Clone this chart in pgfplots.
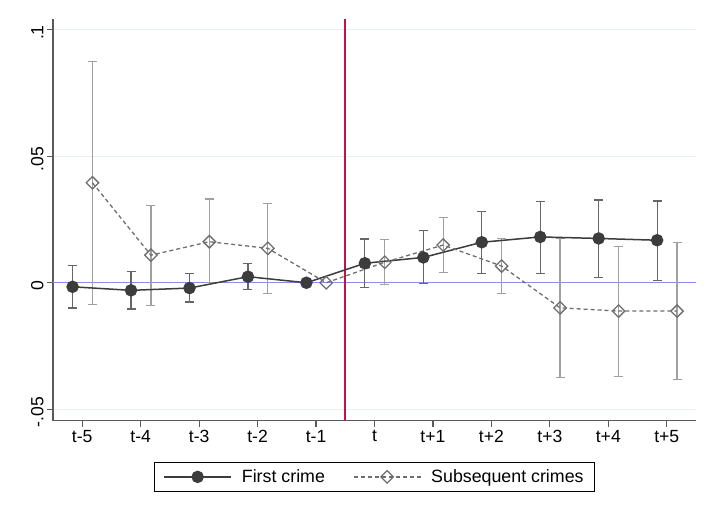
\documentclass[border=0pt]{standalone}
\usepackage{pgfplots}
\pgfplotsset{compat=1.18}
\usepackage{pgfplotstable}
\usepackage{fontspec}
\setmainfont{Liberation Sans}
\definecolor{firstc}{HTML}{3C3C3C}
\definecolor{firstci}{HTML}{666666}
\definecolor{subc}{HTML}{6E6E6E}
\definecolor{subci}{HTML}{A0A0A0}
\definecolor{zeroc}{HTML}{8C8CF0}
\definecolor{vlinec}{RGB}{190,20,70}
\definecolor{gridc}{HTML}{E8F0F2}
\definecolor{axisc}{HTML}{5A5A5A}

\pgfplotstableread{
x y lo hi
-0.165 -0.0016 -0.0100 0.0069
0.835 -0.0030 -0.0104 0.0045
1.835 -0.0021 -0.0076 0.0037
2.835 0.0024 -0.0028 0.0075
3.835 0.0000 0.0000 0.0000
4.835 0.0077 -0.0020 0.0173
5.835 0.0100 -0.0004 0.0206
6.835 0.0160 0.0038 0.0281
7.835 0.0181 0.0037 0.0322
8.835 0.0175 0.0021 0.0327
9.835 0.0168 0.0009 0.0323
}\first

\pgfplotstableread{
x y lo hi
0.175 0.0395 -0.0085 0.0874
1.175 0.0109 -0.0089 0.0304
2.175 0.0162 0.0000 0.0331
3.175 0.0136 -0.0042 0.0314
4.175 0.0000 0.0000 0.0000
5.175 0.0081 -0.0006 0.0171
6.175 0.0149 0.0040 0.0257
7.175 0.0066 -0.0042 0.0174
8.175 -0.0099 -0.0375 0.0174
9.175 -0.0112 -0.0369 0.0142
10.175 -0.0112 -0.0381 0.0158
}\sub

\begin{document}
\begin{tikzpicture}
\useasboundingbox (-53bp,-99.3bp) rectangle (662bp,420.7bp);
\begin{axis}[
  scale only axis, width=643bp, height=401.7bp,
  at={(0,0)}, anchor=south west,
  xmin=-0.5, xmax=10.5, ymin=-0.0545, ymax=0.1042,
  axis lines=left,
  axis line style={-, draw=axisc, line width=1.2bp},
  xtick={0,1,2,3,4,5,6,7,8,9,10},
  xticklabels={t-5,t-4,t-3,t-2,t-1,t,t+1,t+2,t+3,t+4,t+5},
  ytick={-0.05,0,0.05,0.1},
  yticklabels={-.05,0,.05,.1},
  tick align=outside, major tick length=6bp,
  tick style={draw=axisc, line width=1.2bp},
  ymajorgrids, grid style={draw=gridc, line width=1bp},
  every tick label/.append style={font=\fontsize{17.6bp}{20bp}\selectfont, text=black},
  yticklabel style={rotate=90, anchor=south, xshift=-3bp},
  legend style={at={(0.5,0)}, anchor=north, yshift=-41bp, xshift=0bp,
    legend columns=2, draw=black, line width=1bp,
    inner xsep=9bp, inner ysep=5.5bp,
    font=\fontsize{17.8bp}{20bp}\selectfont,
    /tikz/every odd column/.append style={column sep=8bp},
    /tikz/every even column/.append style={column sep=26bp}},
  legend image code/.code={\draw[mark repeat=2,mark phase=2,#1] plot coordinates {(0bp,0bp) (33.5bp,0bp) (67bp,0bp)};},
  clip=false,
]
\addplot[draw=zeroc, line width=1.4bp, forget plot] coordinates {(-0.5,0) (10.5,0)};
\addplot[draw=vlinec, line width=1.6bp, forget plot, mark=none] coordinates {(4.5,-0.0545) (4.5,0.1042)};

\addplot[draw=none, mark=none, forget plot, skip coords between index={4}{5},
  error bars/.cd, y dir=both, y explicit,
  error bar style={draw=firstci, line width=1.2bp, solid},
  error mark options={draw=firstci, line width=1.2bp, mark size=4.5bp, rotate=90}]
  table[x=x, y=y, y error plus expr=\thisrow{hi}-\thisrow{y}, y error minus expr=\thisrow{y}-\thisrow{lo}]{\first};
\addplot[draw=none, mark=none, forget plot, skip coords between index={4}{5},
  error bars/.cd, y dir=both, y explicit,
  error bar style={draw=subci, line width=1.2bp, solid},
  error mark options={draw=subci, line width=1.2bp, mark size=4.5bp, rotate=90}]
  table[x=x, y=y, y error plus expr=\thisrow{hi}-\thisrow{y}, y error minus expr=\thisrow{y}-\thisrow{lo}]{\sub};

\addplot[firstc, line width=1.5bp, mark=*, mark options={mark size=5.5bp, fill=firstc, solid}]
  table[x=x, y=y]{\first};
\addlegendentry{First crime}
\addplot[subc, line width=1.3bp, dash pattern=on 4bp off 3bp, mark=square, mark options={solid, rotate=45, mark size=4.4bp}]
  table[x=x, y=y]{\sub};
\addlegendentry{Subsequent crimes}
\end{axis}
\end{tikzpicture}
\end{document}
